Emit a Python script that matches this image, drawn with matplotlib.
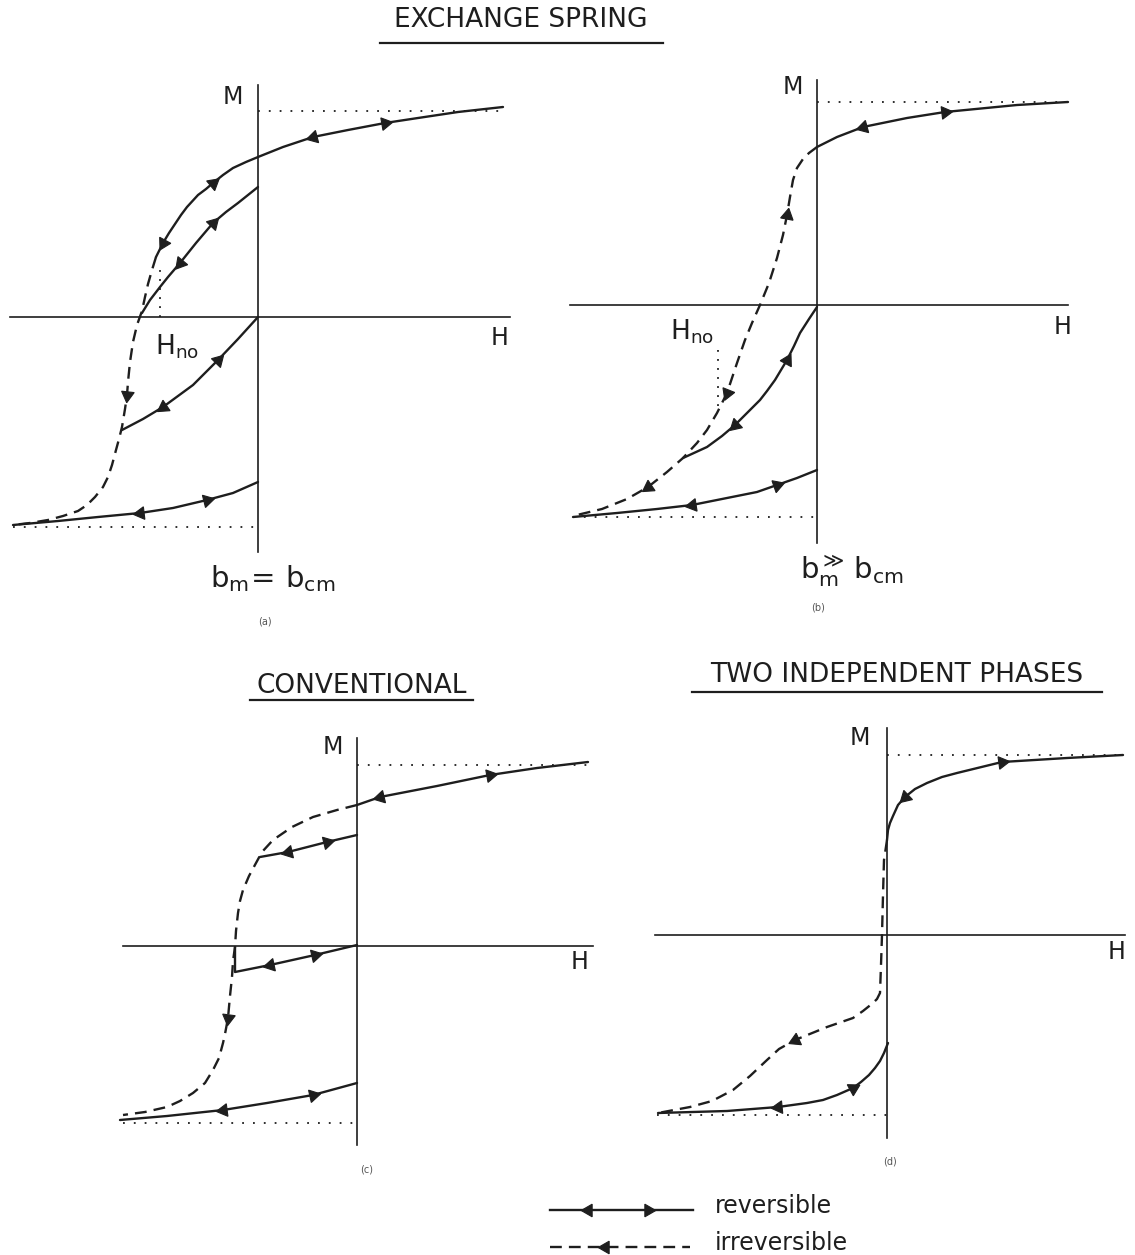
import numpy as np
import matplotlib
matplotlib.use("Agg")
import matplotlib.pyplot as plt

plt.rcParams['font.family'] = ['DejaVu Sans']
plt.rcParams['mathtext.fontset'] = 'dejavusans'

W, H = 1135, 1255
INK = '#1e1e1e'

# Curves are (H, M) pairs, in pixels from each panel's origin.
# Reversible branches are listed left -> right, irreversible ones top -> bottom.

# (a) exchange spring, b_m = b_cm
a_sat = (206, -210)
a_outer = [(-102, 60), (-95, 74), (-89, 84), (-83, 93), (-77, 102), (-71, 110), (-60, 122),
           (-52, 128), (-45, 134), (-35, 142), (-25, 149), (-12, 155), (0, 160), (25, 170),
           (55, 180), (90, 187), (127, 194), (160, 199), (200, 205), (245, 210)]
a_irrev = [(-102, 60), (-106, 47), (-110, 33), (-113, 20), (-116, 6), (-121, -8), (-125, -25),
           (-128, -45), (-130, -65), (-131, -78), (-133, -92), (-136, -110), (-139, -122),
           (-142, -133), (-146, -148), (-150, -160), (-155, -170), (-163, -180), (-171, -188),
           (-180, -194), (-195, -199), (-210, -203), (-228, -206), (-245, -208)]
a_inner = [(-116, 4), (-108, 17), (-98, 30), (-90, 40), (-78, 54), (-70, 64), (-62, 74),
           (-45, 94), (-32, 105), (-20, 114), (0, 130)]
a_minor = [(-136, -113), (-115, -102), (-95, -90), (-65, -68), (-40, -43), (-20, -22), (0, 0)]
a_bottom = [(-245, -208), (-200, -204), (-160, -200), (-118, -196), (-85, -191), (-51, -183),
            (-25, -176), (0, -165)]
a_hno = -98

# (b) exchange spring, b_m >> b_cm
b_sat = (203, -212)
b_top = [(0, 158), (20, 168), (46, 178), (90, 187), (128, 193), (200, 200), (251, 203)]
b_irrev = [(0, 158), (-8, 152), (-14, 146), (-20, 137), (-24, 125), (-27, 108), (-30, 90),
           (-34, 70), (-40, 47), (-48, 22), (-57, 0), (-65, -18), (-72, -35), (-80, -58),
           (-90, -88), (-100, -108), (-110, -125), (-120, -138), (-134, -153), (-150, -167),
           (-169, -182), (-190, -194), (-215, -204), (-240, -210)]
b_inner = [(-134, -153), (-110, -142), (-95, -131), (-82, -120), (-70, -108), (-57, -95),
           (-50, -86), (-42, -75), (-36, -65), (-30, -55), (-23, -41), (-17, -28), (-8, -14),
           (0, -2)]
b_bottom = [(-244, -212), (-200, -208), (-160, -204), (-125, -200), (-90, -193), (-60, -187),
            (-40, -180), (-20, -173), (0, -165)]
b_hno = -99

# (c) conventional
c_sat = (181, -177)
c_top = [(0, 141), (23, 149), (80, 160), (133, 171), (180, 178), (231, 184)]
c_irrev = [(0, 141), (-20, 136), (-44, 129), (-65, 119), (-84, 106), (-95, 94), (-101, 83),
           (-108, 70), (-114, 56), (-117, 45), (-119, 33), (-121, 15), (-122, -1), (-124, -15),
           (-125, -31), (-127, -50), (-129, -72), (-132, -88), (-134, -97), (-138, -112),
           (-144, -124), (-152, -137), (-164, -147), (-177, -155), (-190, -161), (-212, -166),
           (-234, -169)]
c_recoil_hi = [(-97, 89), (-69, 94), (-30, 104), (0, 111)]
c_recoil_mid = [(-122, -1), (-122, -26), (-87, -19), (-42, -9), (0, 1)]
c_bottom = [(-237, -174), (-190, -170), (-134, -164), (-90, -157), (-44, -149), (0, -137)]

# (d) two independent phases
d_sat = (180, -180)
d_top = [(0, 95), (1, 105), (3, 112), (6, 119), (11, 130), (18, 138), (28, 146), (40, 152),
         (55, 158), (70, 162), (115, 173), (180, 177), (236, 180)]
d_irrev = [(0, 95), (-3, 75), (-4, 40), (-5, 0), (-6, -30), (-7, -58), (-10, -64), (-14, -68),
           (-24, -76), (-34, -83), (-60, -92), (-92, -105), (-108, -114), (-120, -125),
           (-137, -141), (-154, -155), (-175, -166), (-197, -172), (-229, -178)]
d_bottom = [(-229, -178), (-160, -176), (-109, -172), (-80, -168), (-64, -165), (-50, -160),
            (-34, -153), (-26, -147), (-18, -140), (-12, -133), (-7, -126), (-3, -118),
            (1, -108)]

# arrowheads: (H, M, +1 along listed order / -1 against it)
PANELS = [
    dict(origin=(258, 317), vax=(-235, 232), hax=(-248, 252), sat=a_sat, sat_h=(245, -245),
         curves=[(a_outer, '-', [(127, 194, 1), (55, 180, -1), (-45, 134, 1), (-95, 74, -1)]),
                 (a_inner, '-', [(-45, 94, 1), (-78, 54, -1)]),
                 (a_irrev, '--', [(-131, -78, 1)]),
                 (a_minor, '-', [(-40, -43, 1), (-95, -90, -1)]),
                 (a_bottom, '-', [(-118, -196, -1), (-51, -183, 1)])],
         hno=(a_hno, 0, 47), hno_txt=(-81, -30),
         labels=[('M', -25, 220), ('H', 242, -21)],
         cond=(r'$\mathsf{b_m\!=\,b_{cm}}$', 15, -262), tag=('(a)', 7, -305)),
    dict(origin=(817, 305), vax=(-238, 225), hax=(-247, 251), sat=b_sat, sat_h=(250, -244),
         curves=[(b_top, '-', [(46, 178, -1), (128, 193, 1)]),
                 (b_irrev, '--', [(-30, 90, -1), (-90, -88, 1), (-169, -182, 1)]),
                 (b_inner, '-', [(-82, -120, -1), (-30, -55, 1)]),
                 (b_bottom, '-', [(-125, -200, -1), (-40, -180, 1)])],
         hno=(b_hno, -45, -103), hno_txt=(-125, -27),
         labels=[('M', -24, 218), ('H', 246, -22)],
         cond=(r'$\mathsf{b_m^{\gg}\,b_{cm}}$', 35, -266), tag=('(b)', 1, -303)),
    dict(origin=(357, 946), vax=(-199, 208), hax=(-234, 236), sat=c_sat, sat_h=(231, -234),
         curves=[(c_top, '-', [(23, 149, -1), (133, 171, 1)]),
                 (c_irrev, '--', [(-129, -72, 1)]),
                 (c_recoil_hi, '-', [(-69, 94, -1), (-30, 104, 1)]),
                 (c_recoil_mid, '-', [(-87, -19, -1), (-42, -9, 1)]),
                 (c_bottom, '-', [(-134, -164, -1), (-44, -149, 1)])],
         hno=None, labels=[('M', -24, 199), ('H', 223, -16)],
         cond=None, tag=('(c)', 10, -224)),
    dict(origin=(887, 935), vax=(-203, 207), hax=(-232, 238), sat=d_sat, sat_h=(236, -230),
         curves=[(d_top, '-', [(18, 138, -1), (115, 173, 1)]),
                 (d_irrev, '--', [(-92, -105, 1)]),
                 (d_bottom, '-', [(-109, -172, -1), (-34, -153, 1)])],
         hno=None, labels=[('M', -27, 197), ('H', 230, -17)],
         cond=None, tag=('(d)', 3, -227)),
]

fig = plt.figure(figsize=(W / 100, H / 100), dpi=100)
fig.patch.set_facecolor('white')

# page-level axes in pixel units for titles and the key
bg = fig.add_axes([0, 0, 1, 1])
bg.set_xlim(0, W)
bg.set_ylim(H, 0)
bg.axis('off')


def panel_axes(ox, oy, x0=-270, x1=270, y0=-330, y1=250):
    ax = fig.add_axes([(ox + x0) / W, (H - oy + y0) / H, (x1 - x0) / W, (y1 - y0) / H])
    ax.set_xlim(x0, x1)
    ax.set_ylim(y0, y1)
    ax.axis('off')
    return ax


def arrow_head(ax, x, y, angle, ms=10.5):
    # filled triangle pointing along angle (degrees, display space)
    ax.plot([x], [y], marker=(3, 0, angle - 90), ms=ms, color=INK, mec=INK, mew=0.8,
            clip_on=False, zorder=4)


def draw_curve(ax, pts, style, arrows):
    h, m = np.array(pts, float).T
    ax.plot(h, m, color=INK, lw=1.7, ls=(0, (5, 3)) if style == '--' else '-',
            solid_joinstyle='round', solid_capstyle='round', clip_on=False, zorder=3)
    for ah, am, s in arrows:
        i = int(np.argmin(np.hypot(h - ah, m - am)))
        j0, j1 = max(i - 1, 0), min(i + 1, len(h) - 1)
        dx, dy = (h[j1] - h[j0]) * s, (m[j1] - m[j0]) * s
        arrow_head(ax, ah, am, np.degrees(np.arctan2(dy, dx)))


for p in PANELS:
    ax = panel_axes(*p['origin'])
    # axes of the sketch
    ax.plot([0, 0], p['vax'], color=INK, lw=1.2, clip_on=False)
    ax.plot(p['hax'], [0, 0], color=INK, lw=1.2, clip_on=False)
    # saturation levels
    top, bot = p['sat']
    ax.plot([0, p['sat_h'][0]], [top, top], color=INK, lw=1.3, ls=(0, (1, 5)), clip_on=False)
    ax.plot([p['sat_h'][1], 0], [bot, bot], color=INK, lw=1.3, ls=(0, (1, 5)), clip_on=False)
    for pts, style, arrows in p['curves']:
        draw_curve(ax, pts, style, arrows)
    if p['hno'] is not None:
        hx, m0, m1 = p['hno']
        ax.plot([hx, hx], [m0, m1], color=INK, lw=1.3, ls=(0, (1, 4)), clip_on=False)
        ax.text(*p['hno_txt'], r'$\mathsf{H_{no}}$', fontsize=19, color=INK,
                ha='center', va='center')
    for txt, x, y in p['labels']:
        ax.text(x, y, txt, fontsize=17, color=INK, ha='center', va='center')
    if p['cond'] is not None:
        txt, x, y = p['cond']
        ax.text(x, y, txt, fontsize=21, color=INK, ha='center', va='center')
    txt, x, y = p['tag']
    ax.text(x, y, txt, fontsize=7, color='#555555', ha='center', va='center')

# underlined headings
for txt, cx, cy, ux0, ux1, uy in [('EXCHANGE SPRING', 521, 20, 380, 663, 43),
                                  ('CONVENTIONAL', 362, 686, 250, 473, 700),
                                  ('TWO INDEPENDENT PHASES', 897, 675, 692, 1102, 692)]:
    bg.text(cx, cy, txt, fontsize=19, color=INK, ha='center', va='center')
    bg.plot([ux0, ux1], [uy, uy], color=INK, lw=1.6)

# key
bg.plot([550, 693], [1210, 1210], color=INK, lw=1.7)
arrow_head(bg, 588, 1210, 180)
arrow_head(bg, 648, 1210, 0)
bg.text(715, 1206, 'reversible', fontsize=17, color=INK, ha='left', va='center')
bg.plot([550, 690], [1247, 1247], color=INK, lw=1.7, ls=(0, (5, 3)))
arrow_head(bg, 605, 1247, 180)
bg.text(715, 1243, 'irreversible', fontsize=17, color=INK, ha='left', va='center')

fig.savefig('out.png', dpi=100, facecolor='white')
